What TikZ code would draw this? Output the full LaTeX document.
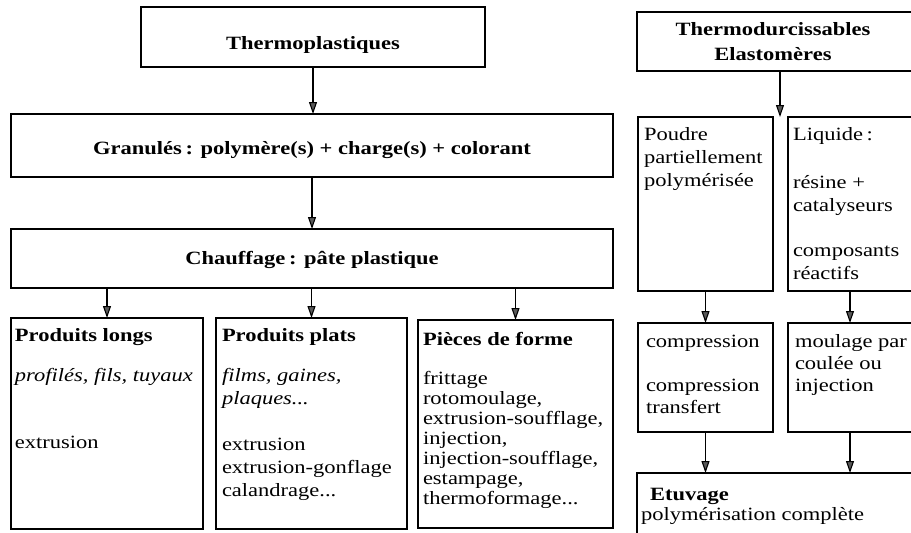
\documentclass[tikz,border=0pt]{standalone}
\usepackage{fontspec}
\usepackage{graphicx}
\setmainfont{Liberation Serif}
\usetikzlibrary{arrows.meta}

% text block: leading, column alignment, rows; set slightly wide
\newcommand{\txtblock}[3]{{\fontsize{18.75}{#1}\selectfont\scalebox{1.2}[1]{\begin{tabular}[t]{@{}#2@{}}#3\end{tabular}}}}

\begin{document}
\begin{tikzpicture}[x=1pt,y=-1pt,
  box/.style={draw=black, line width=1.2pt, inner sep=0pt, outer sep=0pt, anchor=north west},
  arr/.style={line width=1.1pt, -{Triangle[length=12pt,width=8pt,fill=black!65]}},
  txt/.style={inner sep=0pt, outer sep=0pt, anchor=base west},
  ctr/.style={inner sep=0pt, outer sep=0pt, anchor=base}]
\useasboundingbox (0,0) rectangle (911,533);
\clip (0,0) rectangle (911,533);

% ---- thermoplastics column ----
\node[box, minimum width=344, minimum height=60]  (tp) at (141,7)   {};
\node[box, minimum width=602, minimum height=63]  (gr) at (11,114)  {};
\node[box, minimum width=602, minimum height=59]  (ch) at (11,229)  {};
\node[box, minimum width=192, minimum height=211] (pl) at (11,318)  {};
\node[box, minimum width=191, minimum height=211] (pp) at (216,318) {};
\node[box, minimum width=195, minimum height=208] (pf) at (418,320) {};

\node[ctr] (tpt) at (313,49)  {\bfseries\txtblock{22}{c}{Thermoplastiques}};
\node[ctr] (grt) at (312,154) {\bfseries\txtblock{22}{c}{Granulés\,: polymère(s) + charge(s) + colorant}};
\node[ctr] (cht) at (312,264) {\bfseries\txtblock{22}{c}{Chauffage\,: pâte plastique}};

\node[txt] (plt) at (15,341) {\txtblock{22}{l}{\textbf{Produits longs}\\[18pt]
  \textit{profilés, fils, tuyaux}\\[45pt]
  extrusion}};
\node[txt] (ppt) at (222,341) {\txtblock{23}{l}{\textbf{Produits plats}\\[17pt]
  \textit{films, gaines,}\\
  \textit{plaques...}\\[23pt]
  extrusion\\
  extrusion-gonflage\\
  calandrage...}};
\node[txt] (pft) at (423,345) {\txtblock{20}{l}{\textbf{Pièces de forme}\\[19pt]
  frittage\\
  rotomoulage,\\
  extrusion-soufflage,\\
  injection,\\
  injection-soufflage,\\
  estampage,\\
  thermoformage...}};

% ---- thermosets / elastomers column ----
\node[box, minimum width=290, minimum height=59]  (td) at (637,12)  {};
\node[box, minimum width=135, minimum height=174] (po) at (638,117) {};
\node[box, minimum width=124, minimum height=174] (li) at (788,117) {};
\node[box, minimum width=135, minimum height=109] (co) at (638,323) {};
\node[box, minimum width=124, minimum height=109] (mo) at (788,323) {};
\node[box, minimum width=290, minimum height=80]  (et) at (637,473) {};

\node[ctr] (tdt) at (773,35) {\bfseries\txtblock{25}{c}{Thermodurcissables\\ Elastomères}};
\node[txt] (pot) at (644,140) {\txtblock{23}{l}{Poudre\\ partiellement\\ polymérisée}};
\node[txt] (lit) at (793,140) {\txtblock{23}{l}{Liquide\,:\\[25pt]
  résine +\\
  catalyseurs\\[22pt]
  composants\\
  réactifs}};
\node[txt] (cot) at (646,347) {\txtblock{22}{l}{compression\\[22pt]
  compression\\
  transfert}};
\node[txt] (mot) at (795,347) {\txtblock{22}{l}{moulage par\\
  coulée ou\\
  injection}};
\node[txt] (ett) at (650,500) {\txtblock{20}{l}{\textbf{Etuvage}}};
\node[txt] (etp) at (641,520) {\txtblock{20}{l}{polymérisation complète}};

% ---- connectors ----
\coordinate (split) at (780,117);
\draw[arr] (tp.south) -- (tp.south |- gr.north);
\draw[arr] (gr.south) -- (ch.north);
\draw[arr] (ch.south -| pl.north) -- (pl.north);
\draw[arr] (ch.south -| pp.north) -- (pp.north);
\draw[arr] (ch.south -| pf.north) -- (pf.north);
\draw[arr] (td.south -| split) -- (split);
\draw[arr] (po.south) -- (co.north);
\draw[arr] (li.south) -- (mo.north);
\draw[arr] (co.south) -- (co.south |- et.north);
\draw[arr] (mo.south) -- (mo.south |- et.north);
\end{tikzpicture}
\end{document}
